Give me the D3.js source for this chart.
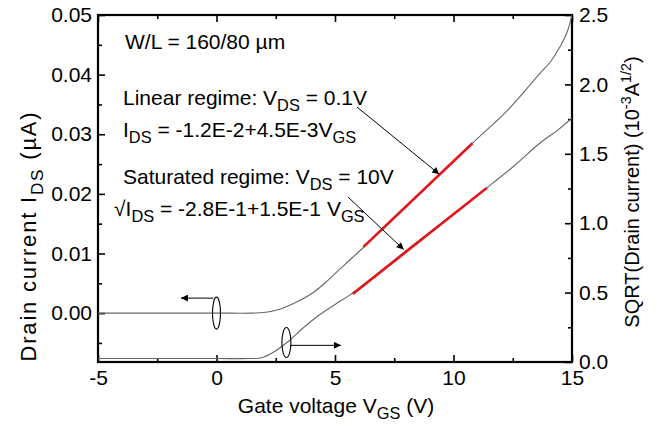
<!DOCTYPE html>
<html>
<head>
<meta charset="utf-8">
<script src="https://cdn.jsdelivr.net/npm/d3@7"></script>
<style>
  body { margin: 0; background: #fff; }
  text { font-family: "Liberation Sans", Arial, sans-serif; }
</style>
</head>
<body>
<svg width="670" height="426"></svg>
<script>
// linear regime curve (left axis, uA)
const vgsLin = [-5, -2.5, 0, 1.5, 2.0, 2.7, 3.4, 4.1, 4.7, 5.4, 6.2, 8.5, 10.8, 12.3, 13.6, 14.1, 14.5, 14.8, 15];
const idsLin = [0, 0, 0, 0, 0.0001, 0.0007, 0.0019, 0.0035, 0.0055, 0.0081, 0.0110, 0.0197, 0.0285, 0.0341, 0.0400, 0.0422, 0.0447, 0.0472, 0.050];
// saturated regime curve (right axis, sqrt)
const vgsSat = [-5, -2.5, 0, 1.5, 1.9, 2.4, 3.0, 3.65, 4.35, 5.05, 5.6, 8.5, 11.4, 12.5, 13.65, 14.4, 15];
const sqrtSat = [0.025, 0.025, 0.025, 0.025, 0.03, 0.07, 0.144, 0.245, 0.34, 0.42, 0.48, 0.87, 1.254, 1.405, 1.578, 1.671, 1.758];
// red fitted segments
const linFitV = [6.2, 10.8], linFitI = [0.0111, 0.0285];
const satFitV = [5.75, 11.4], satFitS = [0.49, 1.254];
// ticks
const xTicks = [-5, 0, 5, 10, 15];
const yLeftTicks = [0, 0.01, 0.02, 0.03, 0.04, 0.05];
const yRightTicks = [0, 0.5, 1.0, 1.5, 2.0, 2.5];

const svg = d3.select("svg");
const L = 98, R = 572, T = 15, B = 362;

const x = d3.scaleLinear().domain([-5, 15]).range([L, R]);
const yL = d3.scaleLinear().domain([-0.0082, 0.05]).range([B, T]);
const yR = d3.scaleLinear().domain([0, 2.5]).range([B, T]);

const fs = 21;

// axes
function styleAxis(g) {
  g.select(".domain").remove();
  g.selectAll("line").attr("stroke", "#000").attr("stroke-width", 1.6);
  g.selectAll("text").attr("font-size", fs).attr("fill", "#000")
    .attr("font-family", "Liberation Sans, Arial, sans-serif");
}

svg.append("g").attr("transform", `translate(0,${B})`)
  .call(d3.axisBottom(x).tickValues(xTicks).tickSize(-7).tickPadding(8).tickFormat(d => String(d)))
  .call(styleAxis);
svg.append("g").attr("transform", `translate(0,${B})`)
  .call(d3.axisBottom(x).tickValues(d3.range(-2.5, 15, 5)).tickSize(-4).tickFormat(""))
  .call(styleAxis);
svg.append("g").attr("transform", `translate(0,${T})`)
  .call(d3.axisTop(x).tickValues(xTicks).tickSize(-7).tickFormat(""))
  .call(styleAxis);
svg.append("g").attr("transform", `translate(0,${T})`)
  .call(d3.axisTop(x).tickValues(d3.range(-2.5, 15, 5)).tickSize(-4).tickFormat(""))
  .call(styleAxis);

svg.append("g").attr("transform", `translate(${L},0)`)
  .call(d3.axisLeft(yL).tickValues(yLeftTicks).tickSize(-7).tickPadding(6).tickFormat(d3.format(".2f")))
  .call(styleAxis);
svg.append("g").attr("transform", `translate(${L},0)`)
  .call(d3.axisLeft(yL).tickValues([-0.005, 0.005, 0.015, 0.025, 0.035, 0.045]).tickSize(-4).tickFormat(""))
  .call(styleAxis);

svg.append("g").attr("transform", `translate(${R},0)`)
  .call(d3.axisRight(yR).tickValues(yRightTicks).tickSize(-7).tickPadding(7).tickFormat(d3.format(".1f")))
  .call(styleAxis);
svg.append("g").attr("transform", `translate(${R},0)`)
  .call(d3.axisRight(yR).tickValues(d3.range(0.25, 2.5, 0.5)).tickSize(-4).tickFormat(""))
  .call(styleAxis);

// frame
svg.append("rect").attr("x", L).attr("y", T).attr("width", R - L).attr("height", B - T)
  .attr("fill", "none").attr("stroke", "#000").attr("stroke-width", 2.2);

// curves
svg.append("clipPath").attr("id", "plot")
  .append("rect").attr("x", L).attr("y", T).attr("width", R - L).attr("height", B - T);
const plot = svg.append("g").attr("clip-path", "url(#plot)");

const lineLin = d3.line().curve(d3.curveCatmullRom.alpha(0.5)).x(d => x(d[0])).y(d => yL(d[1]));
const lineSat = d3.line().curve(d3.curveCatmullRom.alpha(0.5)).x(d => x(d[0])).y(d => yR(d[1]));

plot.append("path").datum(d3.zip(vgsLin, idsLin)).attr("d", lineLin)
  .attr("fill", "none").attr("stroke", "#666").attr("stroke-width", 1.1);
plot.append("path").datum(d3.zip(vgsSat, sqrtSat)).attr("d", lineSat)
  .attr("fill", "none").attr("stroke", "#666").attr("stroke-width", 1.1);

plot.append("path").datum(d3.zip(linFitV, linFitI)).attr("d", d3.line().x(d => x(d[0])).y(d => yL(d[1])))
  .attr("fill", "none").attr("stroke", "#e4161b").attr("stroke-width", 2.6);
plot.append("path").datum(d3.zip(satFitV, satFitS)).attr("d", d3.line().x(d => x(d[0])).y(d => yR(d[1])))
  .attr("fill", "none").attr("stroke", "#e4161b").attr("stroke-width", 2.6);

// arrow markers
const defs = svg.append("defs");
defs.append("marker").attr("id", "ah").attr("viewBox", "0 0 10 10")
  .attr("refX", 10).attr("refY", 5).attr("markerWidth", 11).attr("markerHeight", 7)
  .attr("markerUnits", "userSpaceOnUse").attr("orient", "auto")
  .append("path").attr("d", "M0,0 L10,5 L0,10 Z").attr("fill", "#000");

function arrow(x1, y1, x2, y2) {
  svg.append("line").attr("x1", x1).attr("y1", y1).attr("x2", x2).attr("y2", y2)
    .attr("stroke", "#000").attr("stroke-width", 1).attr("marker-end", "url(#ah)");
}

// ellipse markers with direction arrows
svg.append("ellipse").attr("cx", x(0)).attr("cy", yL(0)).attr("rx", 4).attr("ry", 16)
  .attr("fill", "none").attr("stroke", "#000").attr("stroke-width", 1.1);
arrow(x(0) - 3, yL(0) - 15, x(-1.5), yL(0) - 15);
svg.append("ellipse").attr("cx", x(2.95)).attr("cy", yR(0.14)).attr("rx", 4.5).attr("ry", 15)
  .attr("fill", "none").attr("stroke", "#000").attr("stroke-width", 1.1);
arrow(x(2.95) + 4, yR(0.12), x(5.25), yR(0.12));

// pointer arrows to fits
arrow(357, 107, x(9.4), yL(0.0233));
arrow(348, 197, x(7.9), yR(0.81));

// rich text helper
function rich(sel, parts, size) {
  parts.forEach(p => {
    const [s, k] = p;
    const t = sel.append("tspan").text(s);
    if (k === "sub") t.attr("font-size", size * 0.78).attr("dy", size * 0.3);
    else if (k === "sup") t.attr("font-size", size * 0.72).attr("dy", -size * 0.4);
    if (k === "back") t.attr("dy", -size * 0.3);
    if (k === "down") t.attr("dy", size * 0.4);
  });
  return sel;
}

const ann = [
  [125, 49, [["W/L = 160/80 µm"]]],
  [123, 105, [["Linear regime: V"], ["DS", "sub"], [" = 0.1V", "back"]]],
  [123, 137, [["I"], ["DS", "sub"], [" = -1.2E-2+4.5E-3V", "back"], ["GS", "sub"]]],
  [123, 184, [["Saturated regime: V"], ["DS", "sub"], [" = 10V", "back"]]],
  [114, 216, [["√I"], ["DS", "sub"], [" = -2.8E-1+1.5E-1 V", "back"], ["GS", "sub"]]]
];
ann.forEach(([ax, ay, parts]) => {
  rich(svg.append("text").attr("x", ax).attr("y", ay).attr("font-size", fs).attr("fill", "#000"), parts, fs);
});

// axis titles
rich(svg.append("text").attr("x", 336).attr("y", 413).attr("text-anchor", "middle")
  .attr("font-size", fs).attr("fill", "#000"),
  [["Gate voltage V"], ["GS", "sub"], [" (V)", "back"]], fs);

rich(svg.append("text").attr("transform", "translate(36,236) rotate(-90)").attr("text-anchor", "middle")
  .attr("font-size", 22).attr("letter-spacing", 1.8).attr("fill", "#000"),
  [["Drain current I"], ["DS", "sub"], [" (µA)", "back"]], 22);

rich(svg.append("text").attr("transform", "translate(639,192) rotate(-90)").attr("text-anchor", "middle")
  .attr("font-size", 20).attr("fill", "#000"),
  [["SQRT(Drain current) (10"], ["-3", "sup"], ["A", "down"], ["1/2", "sup"], [")", "down"]], 20);
</script>
</body>
</html>
